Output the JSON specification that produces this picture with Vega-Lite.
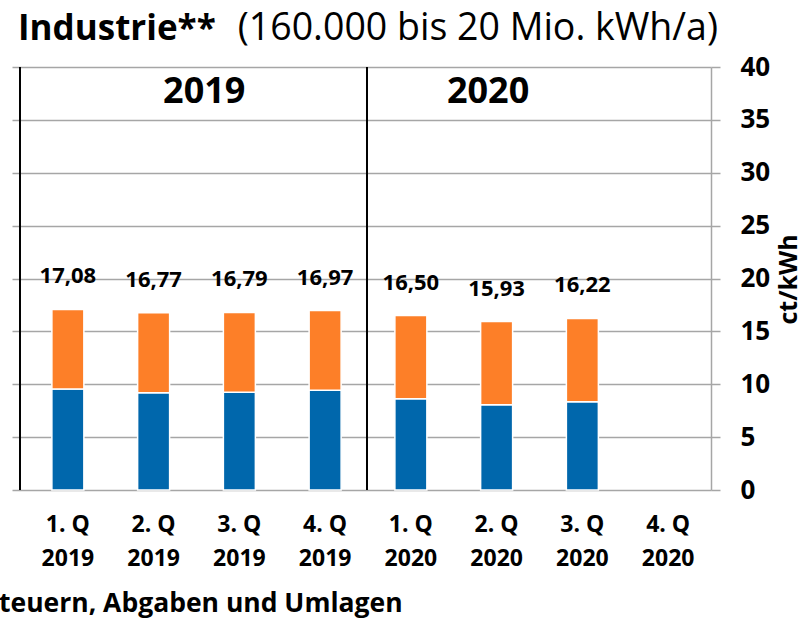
{
  "$schema": "https://vega.github.io/schema/vega-lite/v6.json",
  "width": 699,
  "height": 423,
  "autosize": {"type": "none"},
  "padding": {"left": 12, "top": 67, "right": 93, "bottom": 135},
  "background": "white",
  "config": {
    "font": "Open Sans",
    "view": {"stroke": null},
    "locale": {"number": {"decimal": ",", "thousands": ".", "grouping": [3], "currency": ["", " €"]}}
  },
  "data": {"values": [{}]},
  "datasets": {
    "bars": [
      {"q": "1. Q 2019", "part": "Netto", "value": 9.55},
      {"q": "1. Q 2019", "part": "Steuern, Abgaben und Umlagen", "value": 7.53},
      {"q": "2. Q 2019", "part": "Netto", "value": 9.2},
      {"q": "2. Q 2019", "part": "Steuern, Abgaben und Umlagen", "value": 7.57},
      {"q": "3. Q 2019", "part": "Netto", "value": 9.24},
      {"q": "3. Q 2019", "part": "Steuern, Abgaben und Umlagen", "value": 7.55},
      {"q": "4. Q 2019", "part": "Netto", "value": 9.43},
      {"q": "4. Q 2019", "part": "Steuern, Abgaben und Umlagen", "value": 7.54},
      {"q": "1. Q 2020", "part": "Netto", "value": 8.63},
      {"q": "1. Q 2020", "part": "Steuern, Abgaben und Umlagen", "value": 7.87},
      {"q": "2. Q 2020", "part": "Netto", "value": 8.07},
      {"q": "2. Q 2020", "part": "Steuern, Abgaben und Umlagen", "value": 7.86},
      {"q": "3. Q 2020", "part": "Netto", "value": 8.35},
      {"q": "3. Q 2020", "part": "Steuern, Abgaben und Umlagen", "value": 7.87}
    ],
    "totals": [
      {"q": "1. Q 2019", "total": 17.08},
      {"q": "2. Q 2019", "total": 16.77},
      {"q": "3. Q 2019", "total": 16.79},
      {"q": "4. Q 2019", "total": 16.97},
      {"q": "1. Q 2020", "total": 16.5},
      {"q": "2. Q 2020", "total": 15.93},
      {"q": "3. Q 2020", "total": 16.22}
    ]
  },
  "layer": [
    {
      "data": {"name": "bars"},
      "mark": {"type": "bar", "width": 32, "stroke": "white", "strokeWidth": 1.5},
      "encoding": {
        "x": {
          "field": "q",
          "type": "nominal",
          "sort": null,
          "title": null,
          "scale": {
            "domain": ["1. Q 2019", "2. Q 2019", "3. Q 2019", "4. Q 2019", "1. Q 2020", "2. Q 2020", "3. Q 2020", "4. Q 2020"],
            "paddingInner": 0,
            "paddingOuter": 0.0758,
            "align": 1,
            "round": false
          },
          "axis": {
            "domain": false,
            "ticks": false,
            "grid": false,
            "labelAngle": 0,
            "labelExpr": "[substring(datum.label, 0, 4), substring(datum.label, 5)]",
            "labelFontSize": 23,
            "labelFontWeight": "bold",
            "labelColor": "black",
            "labelLineHeight": 34,
            "labelPadding": 23,
            "labelBaseline": "top"
          }
        },
        "y": {
          "field": "value",
          "type": "quantitative",
          "stack": "zero",
          "scale": {"domain": [0, 40], "nice": false},
          "axis": {
            "orient": "right",
            "values": [0, 5, 10, 15, 20, 25, 30, 35, 40],
            "title": "ct/kWh",
            "titleAngle": 270,
            "titleFontSize": 25,
            "titleFontWeight": "bold",
            "titleColor": "black",
            "titleX": 77,
            "titleY": 212,
            "titleAlign": "center",
            "titleBaseline": "middle",
            "labelFontSize": 26,
            "labelFontWeight": "bold",
            "labelColor": "black",
            "labelPadding": 20,
            "tickSize": 9,
            "tickColor": "#A6A6A6",
            "tickWidth": 1.5,
            "domainColor": "#A6A6A6",
            "domainWidth": 1.5,
            "grid": true,
            "gridColor": "#A6A6A6",
            "gridWidth": 1.5
          }
        },
        "color": {
          "field": "part",
          "type": "nominal",
          "scale": {"domain": ["Netto", "Steuern, Abgaben und Umlagen"], "range": ["#0067AC", "#FD7F28"]},
          "legend": null
        },
        "order": {"field": "part", "type": "nominal", "sort": "ascending"}
      }
    },
    {
      "data": {"name": "totals"},
      "mark": {"type": "text", "dy": -33, "fontSize": 22, "fontWeight": "bold", "baseline": "middle", "color": "black"},
      "encoding": {
        "x": {"field": "q", "type": "nominal"},
        "y": {"field": "total", "type": "quantitative"},
        "text": {"field": "total", "type": "quantitative", "format": ".2f"}
      }
    },
    {
      "mark": {"type": "rule", "color": "black", "strokeWidth": 2, "xOffset": -5},
      "encoding": {
        "x": {"datum": "1. Q 2019", "type": "nominal", "bandPosition": 0},
        "y": {"datum": 0, "type": "quantitative"},
        "y2": {"datum": 40}
      }
    },
    {
      "mark": {"type": "rule", "color": "black", "strokeWidth": 2, "xOffset": -1},
      "encoding": {
        "x": {"datum": "1. Q 2020", "type": "nominal", "bandPosition": 0},
        "y": {"datum": 0, "type": "quantitative"},
        "y2": {"datum": 40}
      }
    },
    {
      "mark": {"type": "text", "fontSize": 36, "fontWeight": "bold", "baseline": "middle", "color": "black"},
      "encoding": {
        "x": {"datum": "3. Q 2019", "type": "nominal", "bandPosition": 0.09},
        "y": {"datum": 37.6, "type": "quantitative"},
        "text": {"value": "2019"}
      }
    },
    {
      "mark": {"type": "text", "fontSize": 36, "fontWeight": "bold", "baseline": "middle", "color": "black"},
      "encoding": {
        "x": {"datum": "2. Q 2020", "type": "nominal", "bandPosition": 0.4},
        "y": {"datum": 37.6, "type": "quantitative"},
        "text": {"value": "2020"}
      }
    },
    {
      "mark": {"type": "text", "fontSize": 35, "fontWeight": "bold", "baseline": "middle", "align": "left", "color": "black", "xOffset": -7},
      "encoding": {
        "x": {"datum": "1. Q 2019", "type": "nominal", "bandPosition": 0},
        "y": {"datum": 43.6, "type": "quantitative"},
        "text": {"value": "Industrie**"}
      }
    },
    {
      "mark": {"type": "text", "fontSize": 37.5, "fontWeight": "normal", "baseline": "middle", "align": "right", "color": "black", "xOffset": 7},
      "encoding": {
        "x": {"datum": "4. Q 2020", "type": "nominal", "bandPosition": 1},
        "y": {"datum": 43.6, "type": "quantitative"},
        "text": {"value": "(160.000 bis 20 Mio. kWh/a)"}
      }
    },
    {
      "mark": {"type": "text", "fontSize": 26.5, "fontWeight": "bold", "baseline": "middle", "align": "left", "color": "black", "xOffset": -26},
      "encoding": {
        "x": {"datum": "1. Q 2019", "type": "nominal", "bandPosition": 0},
        "y": {"datum": -10.75, "type": "quantitative"},
        "text": {"value": "teuern, Abgaben und Umlagen"}
      }
    }
  ]
}
